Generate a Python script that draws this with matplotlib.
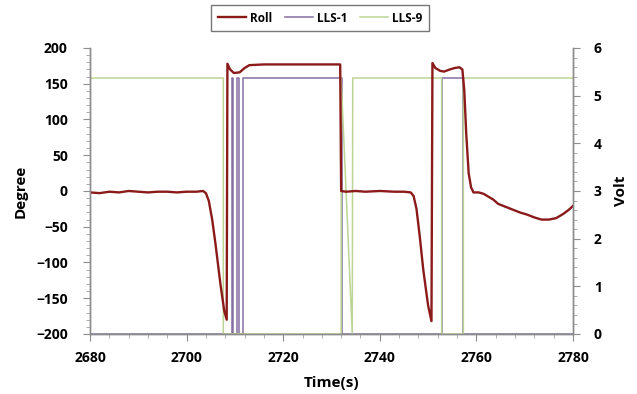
import numpy as np
import matplotlib.pyplot as plt
from matplotlib.ticker import MultipleLocator

plt.rcParams['font.family'] = ['Open Sans', 'DejaVu Sans']

# Roll angle [deg]
roll_t = [2680, 2682, 2684, 2686, 2688, 2690, 2692, 2694, 2696, 2698, 2700, 2702, 2703.4,
          2704.0, 2704.6, 2705.3, 2706, 2707, 2707.8, 2708.3, 2708.45, 2709, 2709.8, 2711, 2712,
          2713, 2716, 2725, 2731.8, 2732.0, 2733, 2735, 2737, 2740, 2743, 2745, 2746.4,
          2747.0, 2747.6, 2748.3, 2749, 2750, 2750.7, 2750.9, 2751.5, 2752.5, 2753.3, 2754.5,
          2755.5, 2756.5, 2757.1, 2757.5, 2757.9, 2758.4, 2758.9, 2759.4, 2760.5, 2761.5,
          2762.5, 2763.5, 2764.5, 2766, 2767.5, 2769, 2770.5, 2772, 2773.5, 2775, 2776.5,
          2778, 2779, 2780]
roll_deg = [-2, -3, -1, -2, 0, -1, -2, -1, -1, -2, -1, -1, 0,
            -3, -14, -40, -75, -130, -168, -180, 178, 170, 165, 166, 172,
            176, 177, 177, 177, 0, -1, 0, -1, 0, -1, -1, -2,
            -7, -25, -65, -110, -160, -182, 179, 172, 168, 167, 170,
            172, 173, 170, 140, 80, 25, 5, -2, -2, -4,
            -8, -12, -18, -22, -26, -30, -33, -37, -40, -40, -38,
            -32, -27, -21]

# LLS sensor outputs [V]
lls1_t = [2680, 2709.3, 2709.3, 2709.7, 2709.7, 2710.5, 2710.5, 2710.9, 2710.9, 2711.6, 2711.6,
          2732.1, 2732.1, 2752.8, 2752.8, 2757.3, 2757.3, 2780]
lls1_v = [0, 0, 5.37, 5.37, 0, 0, 5.37, 5.37, 0, 0, 5.37,
          5.37, 0, 0, 5.37, 5.37, 0, 0]

lls9_t = [2680, 2707.6, 2707.6, 2732.0, 2732.0, 2734.3, 2734.4, 2752.8, 2752.8, 2757.3, 2757.3, 2780]
lls9_v = [5.37, 5.37, 0, 0, 5.37, 0, 5.37, 5.37, 0, 0, 5.37, 5.37]

fig = plt.figure(figsize=(6.37, 3.94), dpi=100)
ax = fig.add_axes([0.1413, 0.1523, 0.7582, 0.7259])
ax2 = ax.twinx()

l2, = ax2.plot(lls1_t, lls1_v, color='#8570a4', lw=1.1, label='LLS-1')
l3, = ax2.plot(lls9_t, lls9_v, color='#bcd494', lw=1.1, label='LLS-9')
l1, = ax.plot(roll_t, roll_deg, color='#8b1a1a', lw=1.7, label='Roll')

ax.set_zorder(ax2.get_zorder() + 1)
ax.patch.set_visible(False)

ax.set_xlim(2680, 2780)
ax.set_ylim(-200, 200)
ax2.set_ylim(0, 6)
ax.xaxis.set_major_locator(MultipleLocator(20))
ax.xaxis.set_minor_locator(MultipleLocator(4))
ax.yaxis.set_major_locator(MultipleLocator(50))
ax.yaxis.set_minor_locator(MultipleLocator(10))
ax2.yaxis.set_major_locator(MultipleLocator(1))
ax2.yaxis.set_minor_locator(MultipleLocator(0.2))

for a in (ax, ax2):
    a.spines['top'].set_visible(False)
    for s in ('left', 'right', 'bottom'):
        a.spines[s].set_color('#8c8c8c')
        a.spines[s].set_linewidth(1.0)
    a.tick_params(which='major', length=5, color='#8c8c8c', labelsize=10)
    a.tick_params(which='minor', length=3, color='#a0a0a0')
    for lab in a.get_xticklabels() + a.get_yticklabels():
        lab.set_fontweight('bold')
ax.tick_params(axis='y', which='major', pad=11)
ax.tick_params(axis='x', which='major', pad=7)
ax2.tick_params(axis='y', which='major', pad=10)

ax.set_ylabel('Degree', fontsize=11, fontweight='bold', labelpad=6)
ax2.set_ylabel('Volt', fontsize=11, fontweight='bold', labelpad=9)
ax.set_xlabel('Time(s)', fontsize=11, fontweight='bold', labelpad=8)

leg = fig.legend([l1, l2, l3], ['Roll', 'LLS-1', 'LLS-9'], loc='center',
                 bbox_to_anchor=(320 / 637, 1 - 18 / 394), ncol=3, fancybox=False,
                 prop={'weight': 'bold', 'size': 8.5}, handlelength=2.4,
                 columnspacing=1.1, handletextpad=0.3, borderpad=0.55)
leg.get_frame().set_edgecolor('#555555')
leg.get_frame().set_linewidth(1.0)

plt.savefig('out.png', dpi=100)
